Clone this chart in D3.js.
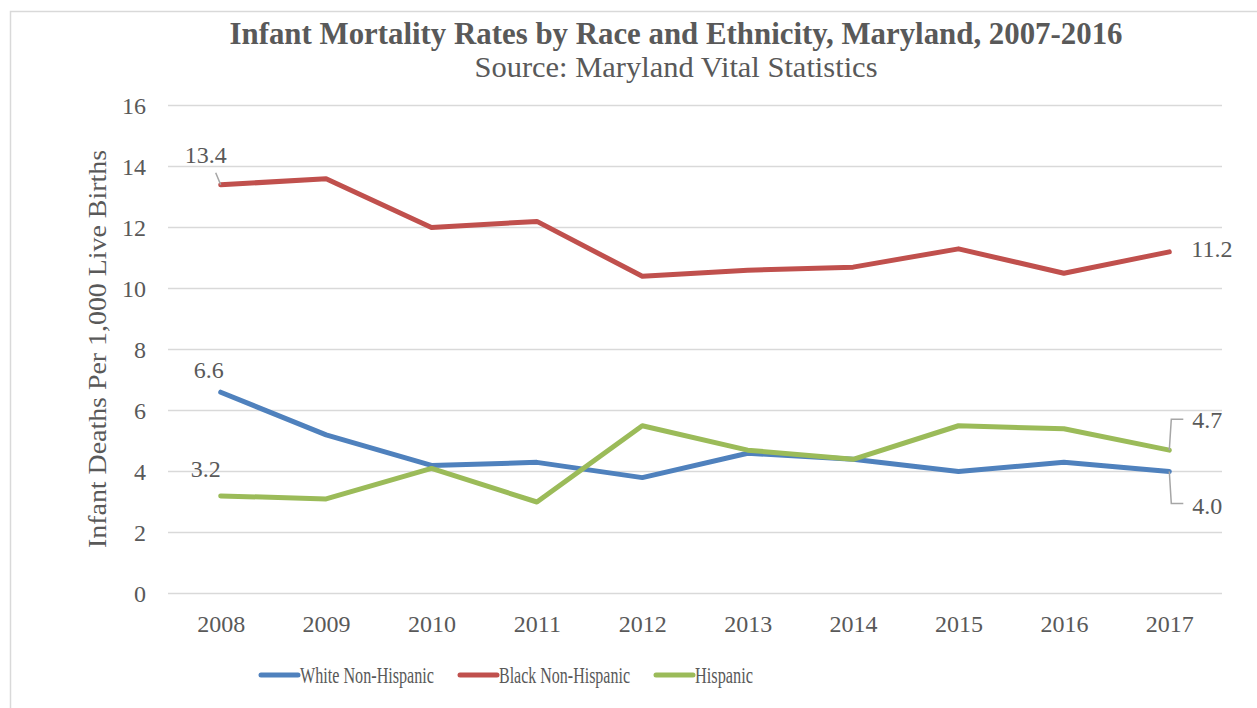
<!DOCTYPE html>
<html>
<head>
<meta charset="utf-8">
<script src="https://cdn.jsdelivr.net/npm/d3@7"></script>
<style>
body{margin:0;background:#fff;}
text{font-family:"Liberation Serif","DejaVu Serif",serif;fill:#595959;}
</style>
</head>
<body>
<div class="chart"></div>
<script>
// data
var years=['2008','2009','2010','2011','2012','2013','2014','2015','2016','2017'];
var white=[6.6,5.2,4.2,4.3,3.8,4.6,4.4,4.0,4.3,4.0];
var black=[13.4,13.6,12.0,12.2,10.4,10.6,10.7,11.3,10.5,11.2];
var hispanic=[3.2,3.1,4.1,3.0,5.5,4.7,4.4,5.5,5.4,4.7];
var yTicks=[0,2,4,6,8,10,12,14,16];

var series=[
	{name:'White Non-Hispanic',values:white,color:'#4f81bd',len:134},
	{name:'Black Non-Hispanic',values:black,color:'#c0504d',len:131},
	{name:'Hispanic',values:hispanic,color:'#9bbb59',len:58}
];

var width=1257,height=708;
var svg=d3.select('div.chart')
		.append('svg')
		.attr('width',width)
		.attr('height',height);

// chart border (top and left edges visible)
svg.append('path')
	.attr('d','M10.5,'+height+'V11.5H'+width)
	.attr('fill','none')
	.attr('stroke','#d9d9d9')
	.attr('stroke-width',1.5);

var plotL=168,plotR=1222,plotT=105.5,plotB=593.5;
var x=d3.scalePoint().domain(years).range([plotL,plotR]).padding(0.5);
var y=d3.scaleLinear().domain([0,16]).range([plotB,plotT]);

//网格线
svg.append('g')
	.selectAll('line')
	.data(yTicks)
	.enter()
	.append('line')
	.attr('x1',plotL).attr('x2',plotR)
	.attr('y1',function(d){return y(d);})
	.attr('y2',function(d){return y(d);})
	.attr('stroke','#d9d9d9')
	.attr('stroke-width',1.5);

// y axis labels
var yAxis=svg.append('g')
	.attr('transform','translate(146,0)')
	.call(d3.axisLeft(y).tickValues(yTicks).tickSize(0).tickPadding(0));
yAxis.select('.domain').remove();
yAxis.selectAll('text')
	.style('font-size','24px')
	.attr('fill','#595959')
	.style('font-family','"Liberation Serif",serif');

// x axis labels
var xAxis=svg.append('g')
	.attr('transform','translate(0,'+(plotB+21)+')')
	.call(d3.axisBottom(x).tickSize(0).tickPadding(0));
xAxis.select('.domain').remove();
xAxis.selectAll('text')
	.style('font-size','24px')
	.attr('fill','#595959')
	.style('font-family','"Liberation Serif",serif');

// axis title
svg.append('text')
	.attr('transform','translate(106,349) rotate(-90)')
	.attr('text-anchor','middle')
	.style('font-size','26px')
	.attr('textLength',398)
	.attr('lengthAdjust','spacingAndGlyphs')
	.text('Infant Deaths Per 1,000 Live Births');

// lines
var line=d3.line()
	.x(function(d,i){return x(years[i]);})
	.y(function(d){return y(d);});
svg.append('g')
	.selectAll('path')
	.data(series)
	.enter()
	.append('path')
	.attr('d',function(d){return line(d.values);})
	.attr('fill','none')
	.attr('stroke',function(d){return d.color;})
	.attr('stroke-width',5)
	.attr('stroke-linejoin','round')
	.attr('stroke-linecap','round');

// data labels: series index, point index, label offset, leader line
var labels=[
	{s:1,i:0,dx:-15,dy:-30,anchor:'middle',leader:[[-5,-12],[0,0]]},
	{s:0,i:0,dx:-12,dy:-23,anchor:'middle'},
	{s:2,i:0,dx:-15,dy:-27,anchor:'middle'},
	{s:1,i:9,dx:22,dy:-3,anchor:'start'},
	{s:2,i:9,dx:23,dy:-31,anchor:'start',leader:[[0,0],[2,-31],[14,-31]]},
	{s:0,i:9,dx:23,dy:34,anchor:'start',leader:[[0,0],[2,32],[14,32]]}
];
var lab=svg.append('g');
labels.forEach(function(l){
	var v=series[l.s].values[l.i];
	var px=x(years[l.i]),py=y(v);
	if(l.leader){
		lab.append('path')
			.attr('d',d3.line()(l.leader.map(function(p){return [px+p[0],py+p[1]];})))
			.attr('fill','none')
			.attr('stroke','#a6a6a6')
			.attr('stroke-width',1.5);
	}
	lab.append('text')
		.attr('x',px+l.dx)
		.attr('y',py+l.dy)
		.attr('dy','0.35em')
		.attr('text-anchor',l.anchor)
		.style('font-size','24px')
		.attr('fill','#404040')
		.text(v.toFixed(1));
});

// title
svg.append('text')
	.attr('x',676).attr('y',44)
	.attr('text-anchor','middle')
	.style('font-size','31px')
	.style('font-weight','bold')
	.attr('textLength',893)
	.attr('lengthAdjust','spacingAndGlyphs')
	.text('Infant Mortality Rates by Race and Ethnicity, Maryland, 2007-2016');
svg.append('text')
	.attr('x',676).attr('y',77)
	.attr('text-anchor','middle')
	.style('font-size','29px')
	.attr('textLength',403)
	.attr('lengthAdjust','spacingAndGlyphs')
	.text('Source: Maryland Vital Statistics');

// legend
var legendX=[261,460,656];
var lg=svg.append('g')
	.selectAll('g')
	.data(series)
	.enter()
	.append('g')
	.attr('transform',function(d,i){return 'translate('+legendX[i]+',675)';});
lg.append('line')
	.attr('x1',0).attr('x2',37)
	.attr('stroke',function(d){return d.color;})
	.attr('stroke-width',5)
	.attr('stroke-linecap','round');
lg.append('text')
	.attr('x',39)
	.attr('dy','0.35em')
	.style('font-size','24px')
	.attr('textLength',function(d){return d.len;})
	.attr('lengthAdjust','spacingAndGlyphs')
	.text(function(d){return d.name;});
</script>
</body>
</html>
